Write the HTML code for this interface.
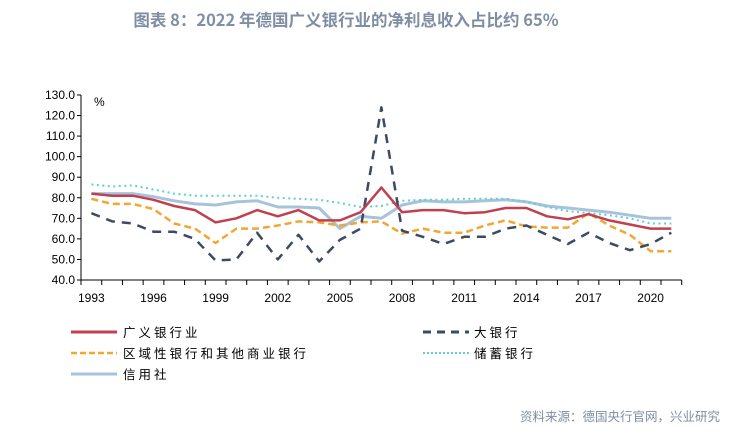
<!DOCTYPE html>
<html><head><meta charset="utf-8"><style>
body{margin:0;background:#fff;width:731px;height:438px;overflow:hidden}
svg{display:block}
text{font-family:"Liberation Sans","Noto Sans CJK SC",sans-serif}
</style></head><body>
<svg id="s" width="731" height="438" viewBox="0 0 731 438">
<text x="346" y="26" text-anchor="middle" font-size="16.5" font-weight="bold" fill="#7f8ea3" style="font-family:'Noto Sans CJK SC',sans-serif">图表 8：2022 年德国广义银行业的净利息收入占比约 65%</text>
<text x="94" y="106" font-size="12" fill="#000">%</text>
<g id="ax" stroke="#000" stroke-width="1"></g>
<g id="lab" font-size="12" fill="#000"></g>
<g id="ser" fill="none"></g>
<g font-size="12.5" fill="#000" style="font-family:'Noto Sans CJK SC',sans-serif">
<line x1="71" y1="332" x2="117" y2="332" stroke="#c0404f" stroke-width="3"/>
<text x="123" y="337" letter-spacing="3">广义银行业</text>
<line x1="423" y1="332" x2="469" y2="332" stroke="#3c4a63" stroke-width="3" stroke-dasharray="8,6"/>
<text x="474" y="337" letter-spacing="3">大银行</text>
<line x1="71" y1="353" x2="117" y2="353" stroke="#f0a830" stroke-width="2.5" stroke-dasharray="6,3"/>
<text x="123" y="358" letter-spacing="3">区域性银行和其他商业银行</text>
<line x1="423" y1="353" x2="469" y2="353" stroke="#5dd0d0" stroke-width="2" stroke-dasharray="2,2"/>
<text x="474" y="358" letter-spacing="3">储蓄银行</text>
<line x1="71" y1="374" x2="117" y2="374" stroke="#a7c3dc" stroke-width="3"/>
<text x="123" y="379" letter-spacing="3">信用社</text>
</g>
<text x="720" y="421" text-anchor="end" font-size="12.5" fill="#7f8ea3" style="font-family:'Noto Sans CJK SC',sans-serif">资料来源：德国央行官网，兴业研究</text>
</svg>
<script>
var ns="http://www.w3.org/2000/svg";
function el(p,t,a,txt){var e=document.createElementNS(ns,t);for(var k in a)e.setAttribute(k,a[k]);if(txt)e.textContent=txt;p.appendChild(e);return e;}
var ax=document.getElementById('ax'),lab=document.getElementById('lab'),ser=document.getElementById('ser');
var x0=81,w=20.714,Y=function(v){return 280-(v-40)*2.056;};
el(ax,'line',{x1:x0,y1:95,x2:x0,y2:280});
el(ax,'line',{x1:x0,y1:280,x2:x0+29*w,y2:280});
for(var v=40;v<=130;v+=10){var y=Y(v);el(ax,'line',{x1:x0-4,y1:y,x2:x0,y2:y});el(lab,'text',{x:x0-6,y:y+4,'text-anchor':'end'},v.toFixed(1));}
for(var i=0;i<=29;i++){el(ax,'line',{x1:x0+i*w,y1:280,x2:x0+i*w,y2:285});}
for(var yr=1993;yr<=2020;yr+=3){var i=yr-1993;el(lab,'text',{x:x0+(i+0.5)*w,y:302,'text-anchor':'middle'},yr);}
var data=[
["#a7c3dc",3,"",[82,82,82,80.5,78.5,77,76.5,78,78.5,75.5,75.5,75,65,71,70,76.5,78.5,78,78,78.5,79,78,76,75,74,73,71.5,70,70]],
["#5dd0d0",2,"2,3.5",[86.5,85.5,86,84,82,81,81,81,81,80,79.5,79,77.5,75.5,76,78.5,79,79,79.5,79.5,79.5,78,75.5,73.5,72.5,71.5,70,67.5,67.5]],
["#f0a830",2.5,"7,4",[79.5,77,77,74.5,67.5,65,58,65,65,66.5,68.5,68,66.5,68,68.5,62.5,65,63,63,66.5,69,66,65.5,65.5,72.5,66.5,62,54,54]],
["#3c4a63",2.5,"9,7",[72.5,68.5,67.5,63.5,63.5,60,49.5,50,63,50,62,49,59.5,65,124,64,61,57.5,61,61,65,66.5,62,57.5,63,58,54.5,57.5,63]],
["#c0404f",2.5,"",[82,81,81,79,76,74,68,70,74,71,74,69,69,73,85,73,74,74,72.5,73,75,75,71,69.5,72,69,67,65,65]]
];
data.forEach(function(d){var pts=d[3].map(function(v,i){return (x0+(i+0.5)*w).toFixed(1)+","+Y(v).toFixed(1);}).join(" ");
var a={points:pts,stroke:d[0],'stroke-width':d[1],'stroke-linejoin':'round'};if(d[2])a['stroke-dasharray']=d[2];el(ser,'polyline',a);});
</script>
</body></html>
